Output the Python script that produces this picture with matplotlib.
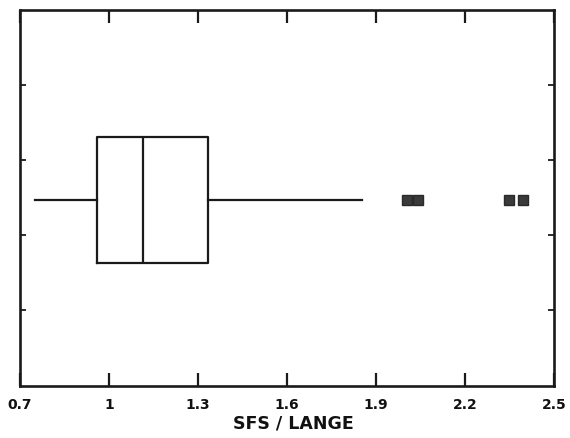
import matplotlib
matplotlib.use("Agg")
import matplotlib.pyplot as plt

# Five-number summary of the SFS/LANGE ratio and the flagged outliers
whisker_low = 0.751
quartile_1 = 0.958
median = 1.116
quartile_3 = 1.335
whisker_high = 1.852
outliers = [2.003, 2.042, 2.348, 2.395]

x_ticks = [0.7, 1.0, 1.3, 1.6, 1.9, 2.2, 2.5]
x_tick_labels = ["0.7", "1", "1.3", "1.6", "1.9", "2.2", "2.5"]
y_ticks = [1, 2, 3, 4]

plt.rcParams["font.family"] = ["DejaVu Sans"]

fig = plt.figure(figsize=(5.70, 4.39), dpi=100)
ax = fig.add_axes([20 / 570, 52.5 / 439, 534 / 570, 375.5 / 439])

stats = [{
    "whislo": whisker_low,
    "q1": quartile_1,
    "med": median,
    "q3": quartile_3,
    "whishi": whisker_high,
    "fliers": outliers,
}]

line_kw = dict(color="#1a1a1a", linewidth=1.6)
ax.bxp(
    stats,
    positions=[2.47],
    widths=1.67,
    orientation="horizontal",
    showcaps=False,
    boxprops=line_kw,
    whiskerprops=line_kw,
    medianprops=line_kw,
    flierprops=dict(marker="s", markersize=7.2, markerfacecolor="#3a3a3a",
                    markeredgecolor="#2a2a2a", linestyle="none"),
)

ax.set_xlim(0.7, 2.5)
ax.set_ylim(0, 5)
ax.set_xticks(x_ticks)
ax.set_xticklabels(x_tick_labels, fontweight="bold")
ax.set_yticks(y_ticks)
ax.set_yticklabels([])

for spine in ax.spines.values():
    spine.set_linewidth(1.9)
    spine.set_color("#1a1a1a")

ax.tick_params(axis="x", which="major", direction="in", length=9.5, width=1.6,
               top=True, bottom=True, color="#1a1a1a", pad=8,
               labelsize=10, labelcolor="#111111")
ax.tick_params(axis="y", which="major", direction="in", length=4, width=1.3,
               left=True, right=True, color="#1a1a1a")

fig.text(293 / 570, 1 - 423.5 / 439, "SFS / LANGE", ha="center", va="center",
         fontsize=12.5, fontweight="bold", color="#111111")

fig.savefig("out.png", dpi=100)
